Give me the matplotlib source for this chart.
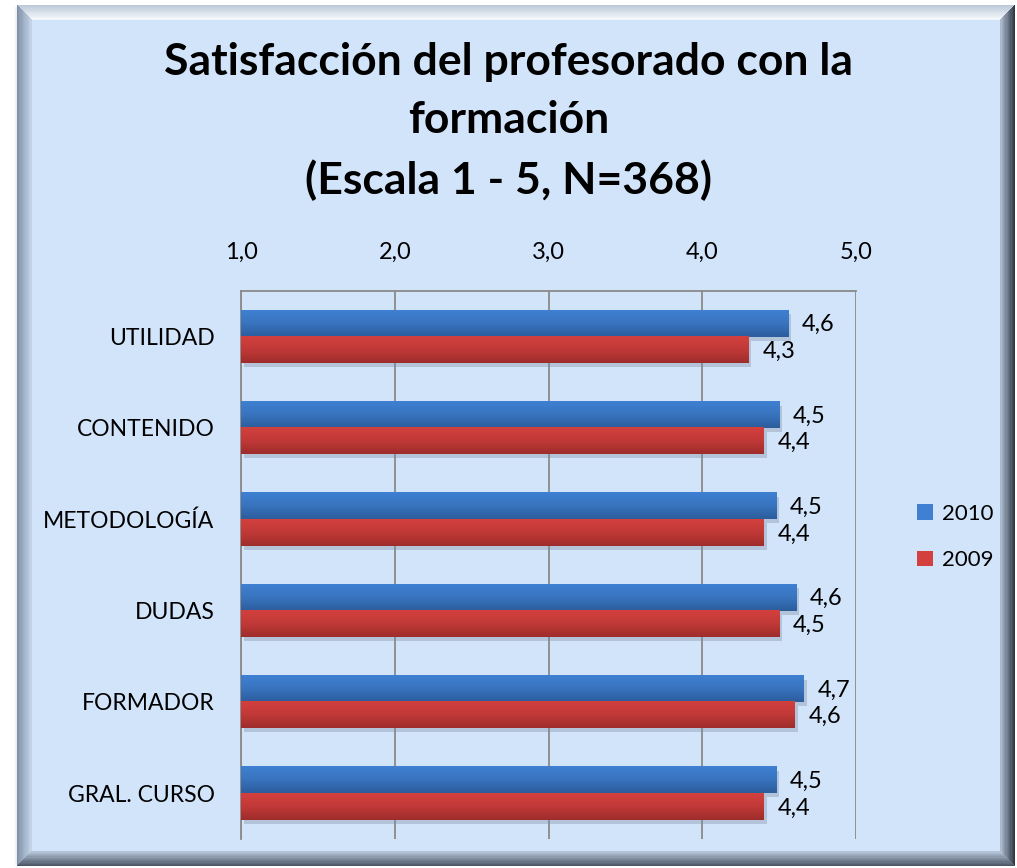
#!/usr/bin/env python3

import numpy as np
import matplotlib
matplotlib.use('Agg')
import matplotlib.pyplot as plt
from matplotlib.colors import LinearSegmentedColormap, to_rgb
from matplotlib.patches import Polygon
import matplotlib.transforms as mtransforms


# Datos
CATEGORIAS = ['UTILIDAD', 'CONTENIDO', 'METODOLOGÍA', 'DUDAS', 'FORMADOR', 'GRAL. CURSO']
VALORES_2010 = [4.56, 4.50, 4.48, 4.61, 4.66, 4.48]
VALORES_2009 = [4.30, 4.40, 4.40, 4.50, 4.60, 4.40]
SERIES = ['2010', '2009']
TICKS_X = [1.0, 2.0, 3.0, 4.0, 5.0]

TITULO = 'Satisfacción del profesorado con la\nformación\n(Escala 1 - 5, N=368)'

W, H = 1017, 868
FONDO = '#D2E4FA'
AZUL = ('#3F80D2', '#2C5D9C')
ROJO = ('#D3403E', '#9E2C2B')

plt.rcParams['font.family'] = ['Lato', 'DejaVu Sans']


def coma(v):
    return f'{v:.1f}'.replace('.', ',')


def mezcla(c1, c2, t):
    a, b = np.array(to_rgb(c1)), np.array(to_rgb(c2))
    return tuple(a + (b - a) * t)


def marco(ax, x0, y0, x1, y1, b, lados, n=12):
    # marco biselado, dibujado en franjas para simular el degradado
    for k in range(n):
        o = b * k / n
        i = b * (k + 1) / n
        t = (k + 0.5) / n
        ox0, oy0, ox1, oy1 = x0 + o, y0 + o, x1 - o, y1 - o
        ix0, iy0, ix1, iy1 = x0 + i, y0 + i, x1 - i, y1 - i
        polys = {
            'top': [(ox0, oy0), (ox1, oy0), (ix1, iy0), (ix0, iy0)],
            'left': [(ox0, oy0), (ix0, iy0), (ix0, iy1), (ox0, oy1)],
            'right': [(ox1, oy0), (ox1, oy1), (ix1, iy1), (ix1, iy0)],
            'bottom': [(ox0, oy1), (ix0, iy1), (ix1, iy1), (ox1, oy1)],
        }
        for lado, pts in polys.items():
            c_ext, c_int = lados[lado]
            ax.add_patch(Polygon(pts, closed=True, facecolor=mezcla(c_ext, c_int, t),
                                 edgecolor='none', antialiased=False))


fig = plt.figure(figsize=(W / 100, H / 100), dpi=100)
fig.patch.set_facecolor('white')

# Fondo con bisel
bg = fig.add_axes([0, 0, 1, 1], zorder=-1)
bg.set_xlim(0, W)
bg.set_ylim(H, 0)
bg.axis('off')
# sombra exterior suave
for k, a in enumerate([0.10, 0.06, 0.03]):
    bg.add_patch(plt.Rectangle((17 - k - 1, 7), 1, 858, color='#50607a', alpha=a, lw=0))
bg.add_patch(plt.Rectangle((17, 5), 998, 861, facecolor=FONDO, edgecolor='none'))
marco(bg, 17, 5, 1015, 866, 15, {
    'top': ('#B9C6D6', '#F7FAFE'),
    'left': ('#7D8DA3', '#C6D6EA'),
    'right': ('#2A303B', '#B0C0D4'),
    'bottom': ('#46505F', '#B8C8DC'),
})

# Título
fig.text(0.5, 1 - 42 / H, TITULO, ha='center', va='top', fontsize=32,
         fontweight='bold', linespacing=1.55, color='black')

# Gráfico de barras
ax = fig.add_axes([241 / W, 1 - 839 / H, 615 / W, 548 / H])
ax.set_facecolor('none')

y = np.arange(len(CATEGORIAS))
h = 0.29

# sombras de las barras
sombra = mtransforms.offset_copy(ax.transData, fig=fig, x=3, y=-4, units='dots')
for vals, off in [(VALORES_2010, -h / 2), (VALORES_2009, h / 2)]:
    ax.barh(y + off, np.array(vals) - 1, left=1, height=h, color='#7a8aa0',
            alpha=0.35, transform=sombra, zorder=2)

b10 = ax.barh(y - h / 2, np.array(VALORES_2010) - 1, left=1, height=h,
              color=AZUL[0], label=SERIES[0], zorder=3)
b09 = ax.barh(y + h / 2, np.array(VALORES_2009) - 1, left=1, height=h,
              color=ROJO[0], label=SERIES[1], zorder=3)

grad = np.linspace(0, 1, 64).reshape(-1, 1)
for barras, cols in [(b10, AZUL), (b09, ROJO)]:
    cmap = LinearSegmentedColormap.from_list('g', [cols[0], mezcla(cols[0], cols[1], 0.35), cols[1]])
    for p in barras.patches:
        x0, y0, bw, bh = p.get_x(), p.get_y(), p.get_width(), p.get_height()
        ax.imshow(grad, cmap=cmap, aspect='auto', origin='upper',
                  extent=(x0, x0 + bw, y0 + bh, y0), zorder=4, interpolation='bilinear')

for barras, vals in [(b10, VALORES_2010), (b09, VALORES_2009)]:
    for p, v in zip(barras.patches, vals):
        ax.annotate(coma(v), (p.get_x() + p.get_width(), p.get_y() + p.get_height() / 2),
                    xytext=(10, -1), textcoords='offset points', ha='left', va='center',
                    fontsize=17, color='black', zorder=5)

ax.set_xlim(TICKS_X[0], TICKS_X[-1])
ax.set_ylim(len(CATEGORIAS) - 0.5, -0.5)
ax.set_xticks(TICKS_X)
ax.set_xticklabels([coma(t) for t in TICKS_X])
ax.set_yticks(y)
ax.set_yticklabels(CATEGORIAS)
ax.xaxis.tick_top()
ax.tick_params(axis='x', length=0, pad=20, labelsize=17)
ax.tick_params(axis='y', length=0, pad=19, labelsize=16.5)
ax.grid(axis='x', color='#8a8a8a', lw=1.3, zorder=1)
ax.set_axisbelow(True)
for lado in ['right', 'bottom']:
    ax.spines[lado].set_visible(False)
for lado in ['top', 'left']:
    ax.spines[lado].set_color('#8a8a8a')
    ax.spines[lado].set_linewidth(1.3)

# Leyenda
fig.legend(handles=[b10, b09], loc='center left', bbox_to_anchor=(906 / W, 1 - 537 / H),
           frameon=False, fontsize=16, handlelength=0.7, handleheight=0.7,
           handletextpad=0.4, labelspacing=1.2, borderpad=0)

fig.savefig('out.png', dpi=100, facecolor='white')
